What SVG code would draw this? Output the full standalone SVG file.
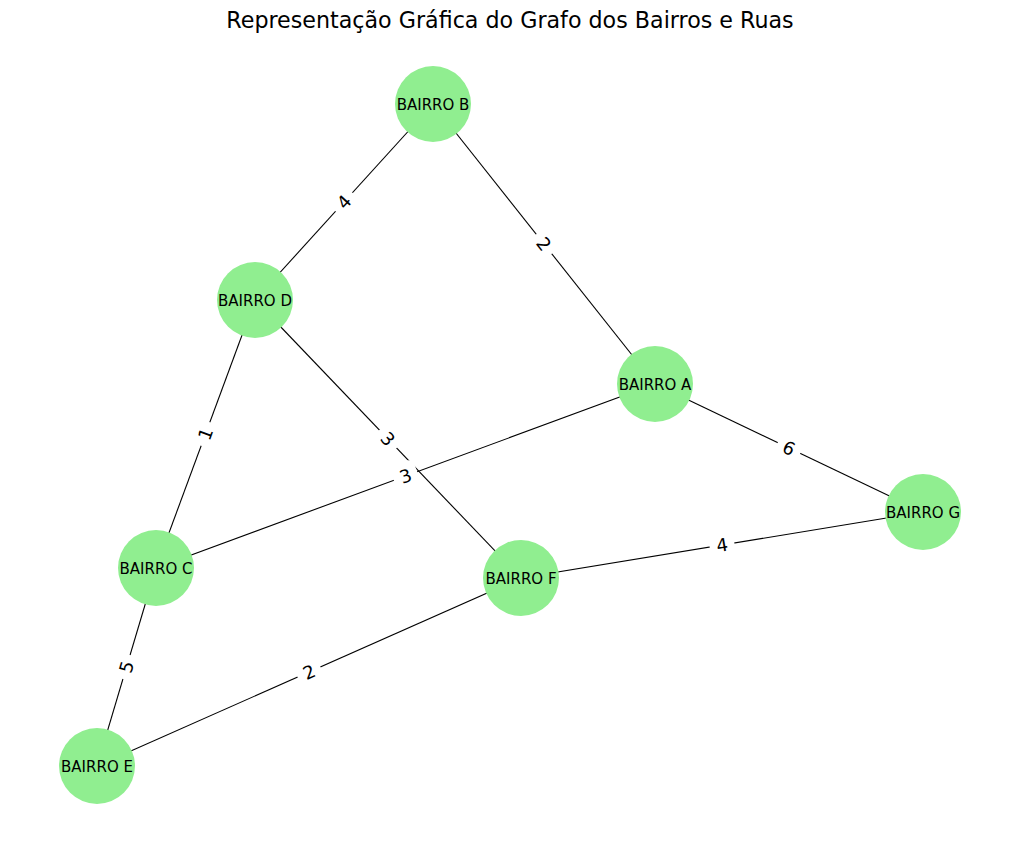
<svg xmlns="http://www.w3.org/2000/svg" width="1019" height="845" viewBox="0 0 1019 845">
<style>
  .edge { stroke: #000; stroke-width: 1.1; fill: none; }
  .node circle { fill: #90EE90; }
  .node text { font-family: "DejaVu Sans", sans-serif; font-size: 15px; fill: #000; text-anchor: middle; }
  .elabel rect { fill: #fff; stroke: none; }
  .elabel text { font-family: "DejaVu Sans", sans-serif; font-size: 18px; fill: #000; text-anchor: middle; }
  .title { font-family: "DejaVu Sans", sans-serif; font-size: 22.2px; fill: #000; text-anchor: middle; }
</style>
<rect width="1019" height="845" fill="#fff"/>
<text class="title" x="510" y="28">Representação Gráfica do Grafo dos Bairros e Ruas</text>
<g id="edges">
  <line class="edge" x1="433" y1="104" x2="255" y2="300"/>
  <line class="edge" x1="433" y1="104" x2="655" y2="384"/>
  <line class="edge" x1="255" y1="300" x2="156" y2="568"/>
  <line class="edge" x1="255" y1="300" x2="521" y2="578"/>
  <line class="edge" x1="655" y1="384" x2="156" y2="568"/>
  <line class="edge" x1="655" y1="384" x2="923" y2="512"/>
  <line class="edge" x1="923" y1="512" x2="521" y2="578"/>
  <line class="edge" x1="156" y1="568" x2="97" y2="766"/>
  <line class="edge" x1="97" y1="766" x2="521" y2="578"/>
</g>
<g id="edge-labels">
  <g class="elabel" transform="translate(344,202) rotate(-47.8)"><rect x="-12.5" y="-14" width="25" height="28" rx="6"/><text x="0" y="6.5">4</text></g>
  <g class="elabel" transform="translate(544,244) rotate(51.7)"><rect x="-12.5" y="-14" width="25" height="28" rx="6"/><text x="0" y="6.5">2</text></g>
  <g class="elabel" transform="translate(205.5,434) rotate(-69.7)"><rect x="-12.5" y="-14" width="25" height="28" rx="6"/><text x="0" y="6.5">1</text></g>
  <g class="elabel" transform="translate(388,439) rotate(46.3)"><rect x="-12.5" y="-14" width="25" height="28" rx="6"/><text x="0" y="6.5">3</text></g>
  <g class="elabel" transform="translate(405.5,476) rotate(-20.3)"><rect x="-12.5" y="-14" width="25" height="28" rx="6"/><text x="0" y="6.5">3</text></g>
  <g class="elabel" transform="translate(789,448) rotate(25.4)"><rect x="-12.5" y="-14" width="25" height="28" rx="6"/><text x="0" y="6.5">6</text></g>
  <g class="elabel" transform="translate(722,545) rotate(-9.3)"><rect x="-12.5" y="-14" width="25" height="28" rx="6"/><text x="0" y="6.5">4</text></g>
  <g class="elabel" transform="translate(126.5,667) rotate(-73.4)"><rect x="-12.5" y="-14" width="25" height="28" rx="6"/><text x="0" y="6.5">5</text></g>
  <g class="elabel" transform="translate(309,672) rotate(-23.9)"><rect x="-12.5" y="-14" width="25" height="28" rx="6"/><text x="0" y="6.5">2</text></g>
</g>
<g id="node-B" class="node"><circle cx="433" cy="104" r="38"/><text x="433" y="109.5">BAIRRO B</text></g>
<g id="node-D" class="node"><circle cx="255" cy="300" r="38"/><text x="255" y="305.5">BAIRRO D</text></g>
<g id="node-A" class="node"><circle cx="655" cy="384" r="38"/><text x="655" y="389.5">BAIRRO A</text></g>
<g id="node-G" class="node"><circle cx="923" cy="512" r="38"/><text x="923" y="517.5">BAIRRO G</text></g>
<g id="node-C" class="node"><circle cx="156" cy="568" r="38"/><text x="156" y="573.5">BAIRRO C</text></g>
<g id="node-F" class="node"><circle cx="521" cy="578" r="38"/><text x="521" y="583.5">BAIRRO F</text></g>
<g id="node-E" class="node"><circle cx="97" cy="766" r="38"/><text x="97" y="771.5">BAIRRO E</text></g>
</svg>
